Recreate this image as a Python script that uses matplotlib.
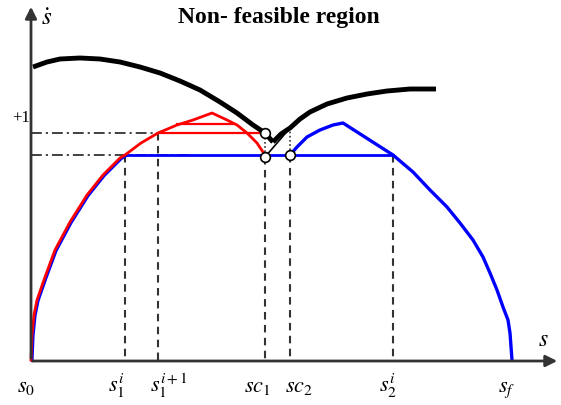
import numpy as np
import matplotlib.pyplot as plt

plt.rcParams['mathtext.fontset'] = 'stix'
plt.rcParams['font.family'] = 'Liberation Serif'

# upper boundary of the feasible region (two branches meeting at the critical point)
bound_left_s = [2, 16, 29, 49, 69, 89, 109, 129, 149, 169, 189, 206, 222, 234, 242]
bound_left_v = [293, 298, 301, 302, 301, 298, 293, 287, 279, 270, 258, 247, 235, 227, 218]
bound_right_s = [242, 250, 259, 269, 279, 296, 316, 336, 356, 379, 405]
bound_right_v = [218, 226, 232, 241, 248, 256, 262, 266, 269, 271, 271]

# forward integration from s0 (red)
fwd_s = [0, 1, 3, 6, 14, 24, 39, 56, 72, 89, 94, 110, 127, 146, 162, 181,
         196, 206, 216, 226, 234]
fwd_v = [0, 25, 45, 60, 83, 110, 138, 165, 185, 202, 205, 217, 227, 235, 240, 247,
         240, 235, 227, 217, 205]

# backward integration from sf (blue)
bwd_s = [259, 266, 276, 289, 302, 312, 362, 382, 399, 416, 429, 442, 452, 459,
         466, 472, 477, 479, 481]
bwd_v = [205, 213, 223, 230, 235, 237, 205, 188, 170, 153, 137, 120, 103, 87,
         70, 53, 40, 27, 0]

v_low, v_high = 205, 227
s1_i, s1_i1, sc1, sc2, s2_i = 94, 127, 234, 259, 362

fig = plt.figure(figsize=(5.61, 4.05), dpi=100)
ax = fig.add_axes([0, 0, 1, 1])
ax.set_xlim(-31, 530)
ax.set_ylim(-45, 360)
ax.axis('off')

# axes with arrows
ax.annotate('', xy=(0, 356), xytext=(0, -1),
            arrowprops=dict(arrowstyle='-|>', color='#333333', lw=2, mutation_scale=17))
ax.annotate('', xy=(529, -1), xytext=(-1, -1),
            arrowprops=dict(arrowstyle='-|>', color='#333333', lw=2, mutation_scale=17))

# guide lines
dashdot = (0, (6, 2.2, 1.2, 2.2))
for v in (v_low, v_high):
    ax.plot([0, 162], [v, v], color='#333333', lw=1.3, linestyle=dashdot)
for s, v in [(s1_i, v_low), (s1_i1, v_high), (sc1, 203), (sc2, v_low), (s2_i, v_low)]:
    ax.plot([s, s], [v, 0], color='#333333', lw=1.5, linestyle=(0, (3.6, 2.6)))
ax.plot([sc1, sc1], [208, 222], color='#333333', lw=1.2, linestyle=(0, (1, 1.5)))
ax.plot([sc2, sc2], [210, 230], color='#333333', lw=1.2, linestyle=(0, (1, 1.5)))

# blue: left branch under the red one, the plateau, and the hump to sf
ax.plot(np.array(fwd_s[:11]) + 1.2, np.array(fwd_v[:11]) - 0.8, color='blue', lw=2)
ax.plot([s1_i, s2_i], [v_low, v_low], color='blue', lw=2)
ax.plot(bwd_s, bwd_v, color='blue', lw=2.4)

# red forward trajectory and its switching lines
ax.plot(fwd_s, fwd_v, color='red', lw=2)
ax.plot([146, 202], [236, 236], color='red', lw=1.6)
ax.plot([s1_i1, sc1], [v_high, v_high], color='red', lw=1.6)

# black boundary
ax.plot(bound_left_s, bound_left_v, color='black', lw=3.5, solid_capstyle='butt')
ax.plot(bound_right_s, bound_right_v, color='black', lw=3.5, solid_capstyle='butt')
ax.plot([sc1, 259], [203, 232], color='black', lw=1.2)

# critical points
ax.plot([sc1, sc1, sc2], [v_high, 203, v_low], 'o', ms=7, mfc='white', mec='black', mew=1.2)

# text
ax.text(248, 343, 'Non- feasible region', ha='center', va='center', fontsize=17,
        fontweight='bold')
ax.text(16, 341, r'$\dot{s}$', ha='center', va='center', fontsize=18)
ax.text(-10, 242, '+1', ha='center', va='center', fontsize=12)
ax.text(512, 20, r'$s$', ha='center', va='center', fontsize=17)

labels = [r'$s_0$', r'$s_1^i$', r'$s_1^{i+1}$', r'$sc_1$', r'$sc_2$', r'$s_2^i$', r'$s_f$']
label_s = [-5, 85, 138, 226, 268, 357, 476]
for txt, s in zip(labels, label_s):
    ax.text(s, -32, txt, ha='center', va='baseline', fontsize=16)

fig.savefig('out.png', dpi=100)
